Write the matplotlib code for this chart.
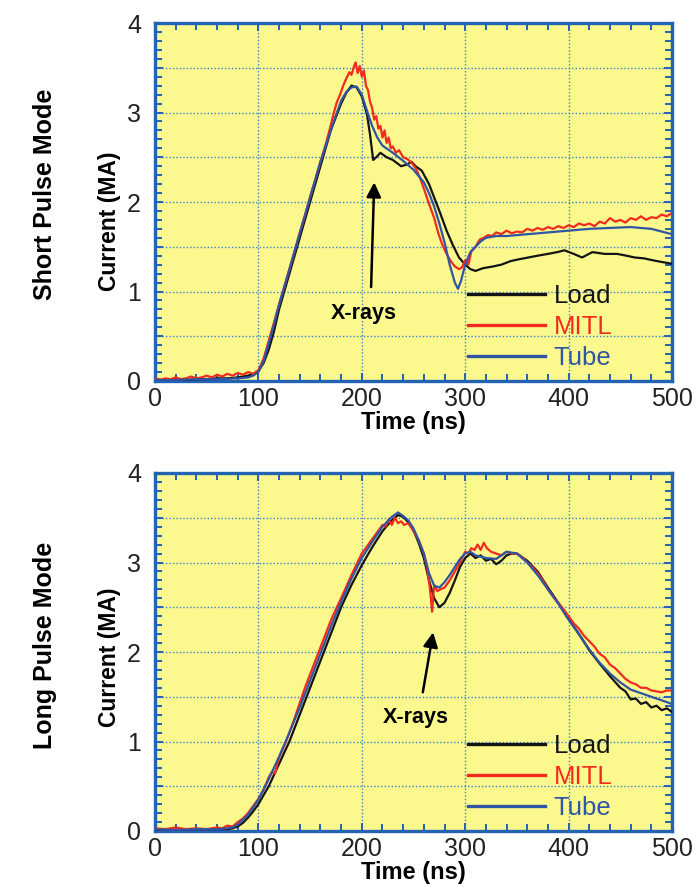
import matplotlib
matplotlib.use("Agg")
import matplotlib.pyplot as plt
from matplotlib.ticker import MultipleLocator, FuncFormatter

plt.rcParams['font.family'] = ['Liberation Sans', 'DejaVu Sans']

# ---------------- data ----------------
# Short pulse mode
sp_load_t = [0,10,20,30,40,50,60,70,80,90,95,100,105,110,115,120,130,140,150,160,170,180,185,190,195,200,205,208,211,214,218,224,230,238,244,248,252,258,265,270,276,282,288,294,300,305,310,317,327,335,344,352,361,370,380,389,396,405,413,423,435,447,456,464,473,481,490,500]
sp_load_i = [0.02,0.01,0.02,0.01,0.02,0.02,0.03,0.03,0.04,0.06,0.08,0.11,0.2,0.35,0.55,0.8,1.2,1.6,2.0,2.4,2.8,3.1,3.22,3.3,3.28,3.18,2.98,2.75,2.47,2.5,2.55,2.5,2.47,2.4,2.42,2.45,2.4,2.35,2.2,2.05,1.87,1.68,1.52,1.38,1.3,1.25,1.23,1.26,1.28,1.3,1.34,1.36,1.38,1.4,1.42,1.44,1.46,1.42,1.38,1.44,1.42,1.42,1.4,1.38,1.37,1.35,1.33,1.31]

sp_mitl_t = [0,5,10,15,20,25,30,35,40,45,50,55,60,65,70,75,80,85,90,95,100,105,110,115,120,125,130,135,140,145,150,155,160,165,170,173,176,179,182,185,188,190,192,194,196,198,200,202,204,206,208,210,212,214,216,218,220,222,224,226,228,230,233,236,240,244,248,252,256,260,265,270,274,278,282,286,290,294,297,300,303,306,310,314,318,322,326,330,335,340,345,350,355,360,365,370,375,380,385,390,395,400,405,410,415,420,425,430,435,440,445,450,455,460,465,470,475,480,485,490,495,500]
sp_mitl_i = [0.03,0.01,0.03,0.02,0.04,0.02,0.03,0.05,0.03,0.04,0.06,0.04,0.07,0.05,0.08,0.06,0.09,0.07,0.1,0.08,0.12,0.25,0.45,0.65,0.86,1.05,1.25,1.45,1.66,1.85,2.06,2.25,2.45,2.64,2.86,3.0,3.12,3.2,3.3,3.38,3.45,3.42,3.5,3.56,3.44,3.52,3.4,3.47,3.3,3.25,3.12,3.05,2.92,2.96,2.82,2.85,2.72,2.8,2.66,2.72,2.6,2.62,2.55,2.58,2.5,2.48,2.44,2.38,2.28,2.15,1.98,1.82,1.65,1.52,1.42,1.34,1.28,1.25,1.27,1.35,1.3,1.45,1.5,1.58,1.6,1.63,1.62,1.66,1.64,1.68,1.65,1.67,1.66,1.7,1.68,1.71,1.69,1.72,1.7,1.73,1.71,1.74,1.72,1.76,1.74,1.76,1.73,1.78,1.76,1.82,1.78,1.8,1.77,1.82,1.8,1.84,1.8,1.83,1.82,1.86,1.84,1.88]

sp_tube_t = [0,20,40,60,80,90,95,100,105,110,115,120,130,140,150,160,170,175,180,185,190,195,200,205,210,215,220,230,240,250,260,265,270,275,280,285,290,293,296,300,305,310,315,320,330,340,350,360,380,400,420,440,460,480,490,500]
sp_tube_i = [0.01,0.01,0.02,0.02,0.03,0.04,0.06,0.1,0.22,0.42,0.63,0.85,1.25,1.65,2.05,2.45,2.8,2.97,3.13,3.23,3.28,3.29,3.2,3.02,2.85,2.72,2.63,2.55,2.46,2.36,2.22,2.1,1.95,1.76,1.55,1.3,1.1,1.03,1.12,1.3,1.44,1.5,1.56,1.6,1.62,1.62,1.63,1.64,1.66,1.68,1.7,1.71,1.72,1.7,1.67,1.64]

# Long pulse mode
lp_load_t = [0,20,40,60,70,75,80,85,90,95,100,110,120,130,140,150,160,170,180,190,200,210,220,228,235,240,245,250,255,260,265,270,275,280,285,290,295,300,305,310,315,320,325,330,335,340,345,350,355,360,370,380,390,400,410,420,430,440,450,455,460,465,470,475,480,485,490,495,500]
lp_load_i = [0.02,0.01,0.02,0.02,0.02,0.03,0.05,0.09,0.15,0.22,0.3,0.5,0.75,1.0,1.3,1.6,1.9,2.2,2.5,2.75,2.97,3.17,3.35,3.46,3.53,3.51,3.45,3.36,3.22,3.05,2.8,2.6,2.5,2.55,2.66,2.8,2.95,3.05,3.1,3.05,3.08,3.02,3.04,2.98,3.02,3.08,3.1,3.1,3.06,3.02,2.9,2.72,2.55,2.37,2.2,2.02,1.87,1.73,1.6,1.56,1.47,1.48,1.42,1.44,1.38,1.4,1.35,1.37,1.33]

lp_mitl_t = [0,10,20,30,40,50,60,65,70,75,80,85,90,95,100,105,110,113,116,120,125,130,135,140,145,150,155,160,165,170,175,180,185,190,195,200,205,210,215,220,223,226,229,232,235,238,241,245,250,255,260,263,266,268,270,273,276,280,285,290,295,300,303,306,309,312,315,318,321,325,330,335,340,345,350,355,360,365,370,375,380,385,390,395,400,405,410,415,420,425,430,435,440,445,450,455,460,465,470,475,480,485,490,495,500]
lp_mitl_i = [0.03,0.02,0.04,0.02,0.03,0.02,0.04,0.03,0.06,0.05,0.1,0.14,0.2,0.28,0.36,0.46,0.6,0.66,0.64,0.82,0.95,1.1,1.26,1.43,1.6,1.75,1.9,2.05,2.2,2.35,2.48,2.6,2.73,2.86,2.98,3.1,3.18,3.26,3.34,3.42,3.4,3.48,3.42,3.5,3.44,3.46,3.42,3.44,3.35,3.25,3.1,2.95,2.7,2.45,2.75,2.68,2.7,2.72,2.8,2.9,3.0,3.12,3.1,3.16,3.14,3.2,3.14,3.22,3.16,3.12,3.1,3.08,3.12,3.1,3.1,3.06,3.0,2.95,2.88,2.8,2.7,2.62,2.55,2.48,2.4,2.32,2.26,2.18,2.12,2.06,1.98,1.94,1.86,1.82,1.76,1.7,1.66,1.64,1.6,1.6,1.57,1.56,1.55,1.57,1.57]

lp_tube_t = [0,20,40,60,70,75,80,90,100,110,120,130,140,150,160,170,180,190,200,210,220,228,235,240,245,250,255,260,265,270,275,280,285,290,295,300,305,310,320,330,340,350,360,370,380,390,400,410,420,430,440,450,460,470,480,490,500]
lp_tube_i = [0.02,0.01,0.02,0.02,0.03,0.04,0.07,0.18,0.35,0.58,0.83,1.1,1.38,1.68,1.98,2.28,2.56,2.82,3.05,3.23,3.4,3.5,3.56,3.52,3.47,3.38,3.25,3.1,2.88,2.74,2.72,2.78,2.86,2.95,3.04,3.1,3.12,3.08,3.05,3.04,3.12,3.1,3.0,2.86,2.7,2.54,2.36,2.2,2.03,1.88,1.76,1.66,1.58,1.54,1.5,1.46,1.42]

series_names = ["Load", "MITL", "Tube"]
panel_titles = ["Short Pulse Mode", "Long Pulse Mode"]
xticks = [0, 100, 200, 300, 400, 500]
yticks = [0, 1, 2, 3, 4]
arrow_label = "X-rays"
# arrow (tail, head) and label position per panel, in data units
arrows = [((209, 1.05), (212, 2.22), (202, 0.75)),
          ((259, 1.55), (269, 2.22), (252, 1.27))]

# ---------------- styling ----------------
YELLOW = '#FBF98E'
FRAME = '#2263B4'
GRID = '#3F7FD0'
C_LOAD = '#141414'
C_MITL = '#F42A1E'
C_TUBE = '#2F55A4'

fig = plt.figure(figsize=(6.96, 8.89), dpi=100)
W, H = 696.0, 889.0
ax_boxes = [(155, 23, 672, 381), (155, 473, 672, 831)]
label_y = [0.447, 0.486]
title_y = [194, 645]

data = [
    [(sp_load_t, sp_load_i), (sp_mitl_t, sp_mitl_i), (sp_tube_t, sp_tube_i)],
    [(lp_load_t, lp_load_i), (lp_mitl_t, lp_mitl_i), (lp_tube_t, lp_tube_i)],
]
colors = [C_LOAD, C_MITL, C_TUBE]

for k in range(2):
    x0, y0, x1, y1 = ax_boxes[k]
    ax = fig.add_axes([x0 / W, 1 - y1 / H, (x1 - x0) / W, (y1 - y0) / H])
    ax.set_facecolor(YELLOW)
    for (t, i), c, n in zip(data[k], colors, series_names):
        ax.plot(t, i, color=c, lw=1.6, label=n, zorder=3)
    ax.set_xlim(0, 500)
    ax.set_ylim(0, 4)
    ax.set_xticks(xticks)
    ax.xaxis.set_minor_locator(MultipleLocator(20))
    ax.yaxis.set_major_locator(MultipleLocator(0.5))
    ax.yaxis.set_minor_locator(MultipleLocator(0.1))
    ax.yaxis.set_major_formatter(FuncFormatter(
        lambda v, p: f"{int(round(v))}" if int(round(v)) in yticks and abs(v - round(v)) < 1e-6 else ""))
    ax.grid(True, which='major', color=GRID, linestyle=(0, (1, 1.5)), lw=1.0, zorder=1)
    for s in ax.spines.values():
        s.set_color(FRAME)
        s.set_linewidth(2.4)
    ax.tick_params(which='both', direction='in', top=True, right=True,
                   color=FRAME, width=1.4, labelsize=18, labelcolor='#222222')
    ax.tick_params(which='major', length=5.5)
    ax.tick_params(which='minor', length=5)
    ax.tick_params(axis='y', pad=10)
    ax.tick_params(axis='x', pad=4)
    ax.set_xlabel("Time (ns)", fontsize=17, fontweight='bold', labelpad=0)
    ax.set_ylabel("Current (MA)", fontsize=16.5, fontweight='bold')
    ax.yaxis.set_label_coords(-0.066, label_y[k])

    (tx, ty), (hx, hy), (lx, ly) = arrows[k]
    ax.annotate('', xy=(hx, hy), xytext=(tx, ty),
                arrowprops=dict(arrowstyle='-|>', color='black', lw=1.8,
                                mutation_scale=22, shrinkA=0, shrinkB=0), zorder=4)
    ax.text(lx, ly, arrow_label, fontsize=15.5, fontweight='bold',
            ha='center', va='center', zorder=4)

    leg = ax.legend(loc='lower left', bbox_to_anchor=(0.605, 0.03),
                    frameon=False, fontsize=18.5, handlelength=3.0,
                    handletextpad=0.35, labelspacing=0.28, borderpad=0,
                    borderaxespad=0, labelcolor='linecolor')
    for h in leg.get_lines():
        h.set_linewidth(2.4)

    fig.text(45 / W, 1 - title_y[k] / H, panel_titles[k], rotation=90,
             fontsize=18, fontweight='bold', ha='center', va='center')

fig.savefig("out.png", dpi=100, facecolor='white')
